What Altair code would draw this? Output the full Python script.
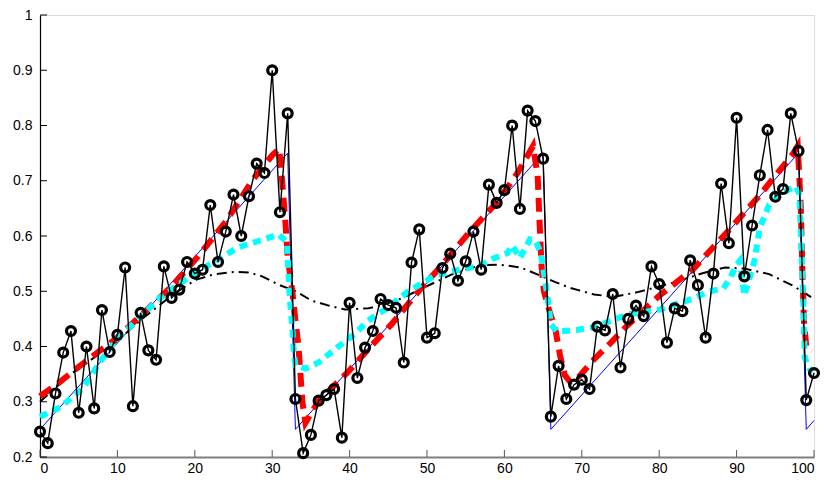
import altair as alt
import pandas as pd

# ---- data ----
obs_y = [0.246, 0.225, 0.315, 0.389, 0.428, 0.280, 0.400, 0.288, 0.466, 0.390,
         0.421, 0.543, 0.292, 0.461, 0.393, 0.376, 0.545, 0.488, 0.503, 0.553,
         0.532, 0.539, 0.656, 0.553, 0.608, 0.675, 0.600, 0.672, 0.731, 0.714,
         0.900, 0.643, 0.822, 0.305, 0.207, 0.240, 0.302, 0.312, 0.323, 0.235,
         0.479, 0.343, 0.398, 0.428, 0.486, 0.475, 0.470, 0.371, 0.552, 0.612,
         0.416, 0.424, 0.542, 0.568, 0.519, 0.554, 0.608, 0.539, 0.693, 0.660,
         0.683, 0.800, 0.649, 0.827, 0.808, 0.740, 0.273, 0.365, 0.305, 0.331,
         0.340, 0.323, 0.436, 0.429, 0.495, 0.362, 0.450, 0.474, 0.455, 0.545,
         0.513, 0.407, 0.469, 0.464, 0.556, 0.511, 0.416, 0.532, 0.695, 0.587,
         0.814, 0.527, 0.619, 0.710, 0.792, 0.671, 0.685, 0.822, 0.754, 0.303,
         0.352]
obs_x = list(range(len(obs_y)))

true_x = [0, 32, 33, 65, 66, 98, 99, 100]
true_y = [0.25, 0.75, 0.25, 0.75, 0.25, 0.75, 0.25, 0.266]

red_x = [0, 2.5, 4.7, 7.5, 9.9, 13.7, 17.1, 20.6, 24.0, 27.4, 30.0, 30.9, 31.3,
         31.7, 32.0, 32.6, 33.0, 33.4, 33.6, 33.9, 34.3, 36.0, 39.8, 42.4, 45.4,
         49.2, 51.8, 55.3, 59.1, 61.7, 63.7, 64.3, 64.5, 64.8, 65.1, 65.8, 66.6,
         67.2, 67.8, 68.5, 69.6, 71.6, 73.7, 75.8, 80.1, 84.4, 88.7, 93.0, 97.3,
         97.9, 98.1, 98.3, 98.5, 98.7, 99.0, 99.8]
red_y = [0.310, 0.335, 0.360, 0.390, 0.415, 0.465, 0.510, 0.566, 0.626, 0.700,
         0.746, 0.758, 0.697, 0.627, 0.562, 0.500, 0.447, 0.400, 0.360, 0.300,
         0.262, 0.302, 0.354, 0.395, 0.440, 0.505, 0.545, 0.604, 0.662, 0.714,
         0.763, 0.709, 0.639, 0.545, 0.500, 0.465, 0.430, 0.383, 0.348, 0.336,
         0.345, 0.377, 0.406, 0.437, 0.493, 0.540, 0.606, 0.674, 0.749, 0.763,
         0.709, 0.650, 0.534, 0.447, 0.400, 0.393]

cyan_x = [0, 2.6, 5.6, 7.7, 9.9, 12.9, 15.4, 18.9, 22.3, 25.7, 29.2, 30.8, 31.9,
          32.1, 32.3, 32.6, 32.8, 33.0, 34.3, 36.0, 38.1, 40.7, 42.4, 44.6, 47.6,
          51.0, 54.4, 56.6, 58.7, 60.4, 61.0, 62.0, 63.3, 64.0, 64.7, 65.1, 65.6,
          66.0, 66.8, 69.4, 71.6, 74.2, 76.0, 80.1, 84.4, 86.5, 88.3, 89.2, 90.0,
          90.4, 91.0, 92.3, 93.0, 94.2, 96.0, 97.7, 98.1, 98.3, 98.6, 98.8, 99.4,
          99.9]
cyan_y = [0.273, 0.290, 0.325, 0.371, 0.412, 0.453, 0.487, 0.522, 0.552, 0.580,
          0.595, 0.603, 0.589, 0.534, 0.482, 0.435, 0.388, 0.366, 0.360, 0.371,
          0.395, 0.423, 0.447, 0.467, 0.500, 0.528, 0.540, 0.545, 0.560, 0.569,
          0.583, 0.560, 0.594, 0.592, 0.569, 0.534, 0.487, 0.440, 0.427, 0.430,
          0.435, 0.449, 0.458, 0.467, 0.487, 0.500, 0.505, 0.525, 0.548, 0.555,
          0.492, 0.555, 0.615, 0.656, 0.679, 0.690, 0.675, 0.604, 0.487, 0.380,
          0.360, 0.355]

dd_x = [0, 4, 7.3, 10, 13, 15, 17, 18.9, 20.2, 22.3, 25.0, 27.0, 28.7, 30.8,
        33.0, 35.1, 37.3, 39.4, 42.4, 44.5, 46.7, 50.1, 53.6, 56.9, 59.5, 62.1,
        64.7, 66.5, 68.3, 71.6, 74.2, 77.1, 81.4, 85.7, 88.5, 91.0, 94.2, 97.3,
        99.9]
dd_y = [0.300, 0.350, 0.383, 0.410, 0.448, 0.470, 0.492, 0.510, 0.521, 0.530,
        0.535, 0.534, 0.527, 0.512, 0.500, 0.483, 0.474, 0.467, 0.469, 0.476,
        0.487, 0.510, 0.533, 0.547, 0.548, 0.543, 0.528, 0.517, 0.507, 0.494,
        0.490, 0.498, 0.514, 0.533, 0.543, 0.541, 0.531, 0.510, 0.487]

x_ticks = [0, 10, 20, 30, 40, 50, 60, 70, 80, 90, 100]
y_ticks = [0.2, 0.3, 0.4, 0.5, 0.6, 0.7, 0.8, 0.9, 1.0]

W, H = 774, 442
FONT = "Liberation Sans"

xs = alt.Scale(domain=[0, 100], nice=False, zero=False)
ys = alt.Scale(domain=[0.2, 1.0], nice=False, zero=False)

obs = pd.DataFrame({"x": obs_x, "y": obs_y})
true = pd.DataFrame({"x": true_x, "y": true_y})
red = pd.DataFrame({"x": red_x, "y": red_y})
cyan = pd.DataFrame({"x": cyan_x, "y": cyan_y})
dd = pd.DataFrame({"x": dd_x, "y": dd_y})

X = alt.X("x:Q", scale=xs,
          axis=alt.Axis(values=x_ticks, ticks=False, grid=False, labelFont=FONT,
                        labelFontSize=14, labelColor="black", labelPadding=4,
                        domainColor="#7f7f7f", domainWidth=2, title=None))
Y = alt.Y("y:Q", scale=ys,
          axis=alt.Axis(values=y_ticks, ticks=False, grid=False, labelFont=FONT,
                        labelFontSize=14, labelColor="black", labelPadding=8,
                        format=".1~f", domainColor="black", domainWidth=1.2,
                        title=None))

base_axes = alt.Chart(obs).mark_line(opacity=0).encode(x=X, y=Y)

dash_dot = alt.Chart(dd).mark_line(color="black", strokeWidth=2,
                                   strokeDash=[10, 5, 2, 5]).encode(
    x=alt.X("x:Q", scale=xs), y=alt.Y("y:Q", scale=ys), order="x:Q")
blue = alt.Chart(true).mark_line(color="#0000ff", strokeWidth=1).encode(
    x=alt.X("x:Q", scale=xs), y=alt.Y("y:Q", scale=ys), order="x:Q")
obs_line = alt.Chart(obs).mark_line(color="black", strokeWidth=1.4).encode(
    x=alt.X("x:Q", scale=xs), y=alt.Y("y:Q", scale=ys), order="x:Q")
obs_pts = alt.Chart(obs).mark_point(shape="circle", filled=False, color="black",
                                    strokeWidth=3.2, size=80, opacity=1).encode(
    x=alt.X("x:Q", scale=xs), y=alt.Y("y:Q", scale=ys))
red_line = alt.Chart(red).mark_line(color="#ff0000", strokeWidth=6,
                                    strokeDash=[14, 8]).encode(
    x=alt.X("x:Q", scale=xs), y=alt.Y("y:Q", scale=ys), order="x:Q")
cyan_line = alt.Chart(cyan).mark_line(color="#00ffff", strokeWidth=6,
                                      strokeDash=[8, 6]).encode(
    x=alt.X("x:Q", scale=xs), y=alt.Y("y:Q", scale=ys), order="x:Q")

ytick_df = pd.DataFrame({"v": y_ticks})
xtick_df = pd.DataFrame({"v": x_ticks})
yticks = alt.Chart(ytick_df).mark_rule(color="black", strokeWidth=1).encode(
    y=alt.Y("v:Q", scale=ys), x=alt.value(0), x2=alt.value(7))
xticks = alt.Chart(xtick_df).mark_rule(color="#555555", strokeWidth=1).encode(
    x=alt.X("v:Q", scale=xs), y=alt.value(H), y2=alt.value(H - 7))

chart = alt.layer(
    base_axes, blue, dash_dot, red_line, cyan_line, obs_line, obs_pts,
    yticks, xticks
).properties(
    width=W, height=H,
    autosize=alt.AutoSizeParams(type="none"),
    padding={"left": 32, "top": 7, "right": 12, "bottom": 19},
).configure_view(stroke=None).configure(background="white")

chart.save("out.html", embed_options={"renderer": "svg", "actions": False})
